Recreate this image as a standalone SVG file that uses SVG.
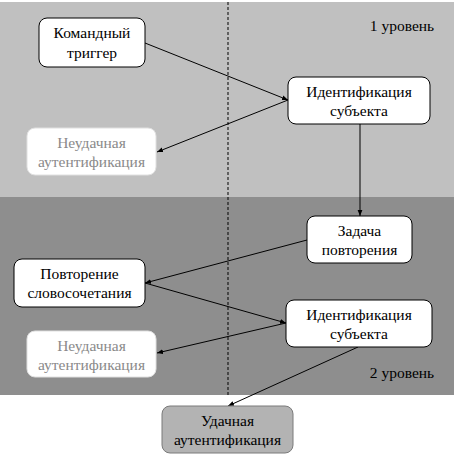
<svg xmlns="http://www.w3.org/2000/svg" width="456" height="456" viewBox="0 0 456 456" font-family="Liberation Serif, Times New Roman, serif">
<style>
.t{font-family:'Liberation Serif','Times New Roman',serif;font-size:15.5px;text-anchor:middle;fill:#000}
.g{fill:#8a8a8a}
.b{fill:#fff;stroke:#000;stroke-width:1}
.f{fill:#fff;stroke:#e0e0e0;stroke-width:1}
.c{stroke:#000;stroke-width:1;fill:none;marker-end:url(#a)}
</style>
<defs>
<marker id="a" viewBox="0 0 10 10" refX="10" refY="5" markerWidth="6" markerHeight="6" orient="auto" markerUnits="userSpaceOnUse">
<path d="M0,1 L10,5 L0,9 z" fill="#000"/>
</marker>
</defs>
<rect width="456" height="456" fill="#fff"/>
<g id="bands">
<rect x="0" y="2" width="454" height="195" fill="#c0c0c0"/>
<rect x="0" y="197" width="454" height="198" fill="#8e8e8e"/>
<line x1="228" y1="2" x2="228" y2="395" stroke="#000" stroke-width="1" stroke-dasharray="3,2"/>
<text class="t" x="402" y="31">1 уровень</text>
<text class="t" x="402" y="378">2 уровень</text>
</g>
<g id="connectors">
<line class="c" x1="145" y1="43" x2="288" y2="100"/>
<line class="c" x1="288" y1="100" x2="157" y2="152"/>
<line class="c" x1="360" y1="124" x2="360" y2="216"/>
<line class="c" x1="307" y1="240" x2="145" y2="283"/>
<line class="c" x1="145" y1="283" x2="286" y2="323"/>
<line class="c" x1="286" y1="323" x2="157" y2="353"/>
<line class="c" x1="358" y1="347" x2="228" y2="406"/>
</g>
<g id="n1">
<rect class="b" x="39" y="18" width="106" height="49" rx="8"/>
<text class="t" x="92" y="38">Командный</text>
<text class="t" x="92" y="57.5">триггер</text>
</g>
<g id="n2">
<rect class="f" x="27" y="128" width="129" height="47" rx="8"/>
<text class="t g" x="91.5" y="148">Неудачная</text>
<text class="t g" x="91.5" y="167">аутентификация</text>
</g>
<g id="n3">
<rect class="b" x="288" y="77" width="142" height="47" rx="8"/>
<text class="t" x="359" y="97">Идентификация</text>
<text class="t" x="359" y="116">субъекта</text>
</g>
<g id="n4">
<rect class="b" x="307" y="216" width="105" height="47" rx="8"/>
<text class="t" x="359.5" y="236">Задача</text>
<text class="t" x="359.5" y="255">повторения</text>
</g>
<g id="n5">
<rect class="b" x="14" y="259" width="131" height="48" rx="8"/>
<text class="t" x="79.5" y="279">Повторение</text>
<text class="t" x="79.5" y="298">словосочетания</text>
</g>
<g id="n6">
<rect class="b" x="286" y="300" width="146" height="47" rx="8"/>
<text class="t" x="359" y="320">Идентификация</text>
<text class="t" x="359" y="339">субъекта</text>
</g>
<g id="n7">
<rect class="f" x="27" y="331" width="129" height="46" rx="8"/>
<text class="t g" x="91.5" y="351">Неудачная</text>
<text class="t g" x="91.5" y="370">аутентификация</text>
</g>
<g id="n8">
<rect x="162" y="406" width="131" height="47" rx="8" fill="#b3b3b3" stroke="#7a7a7a" stroke-width="1"/>
<text class="t" x="227.5" y="426">Удачная</text>
<text class="t" x="227.5" y="445">аутентификация</text>
</g>
</svg>
